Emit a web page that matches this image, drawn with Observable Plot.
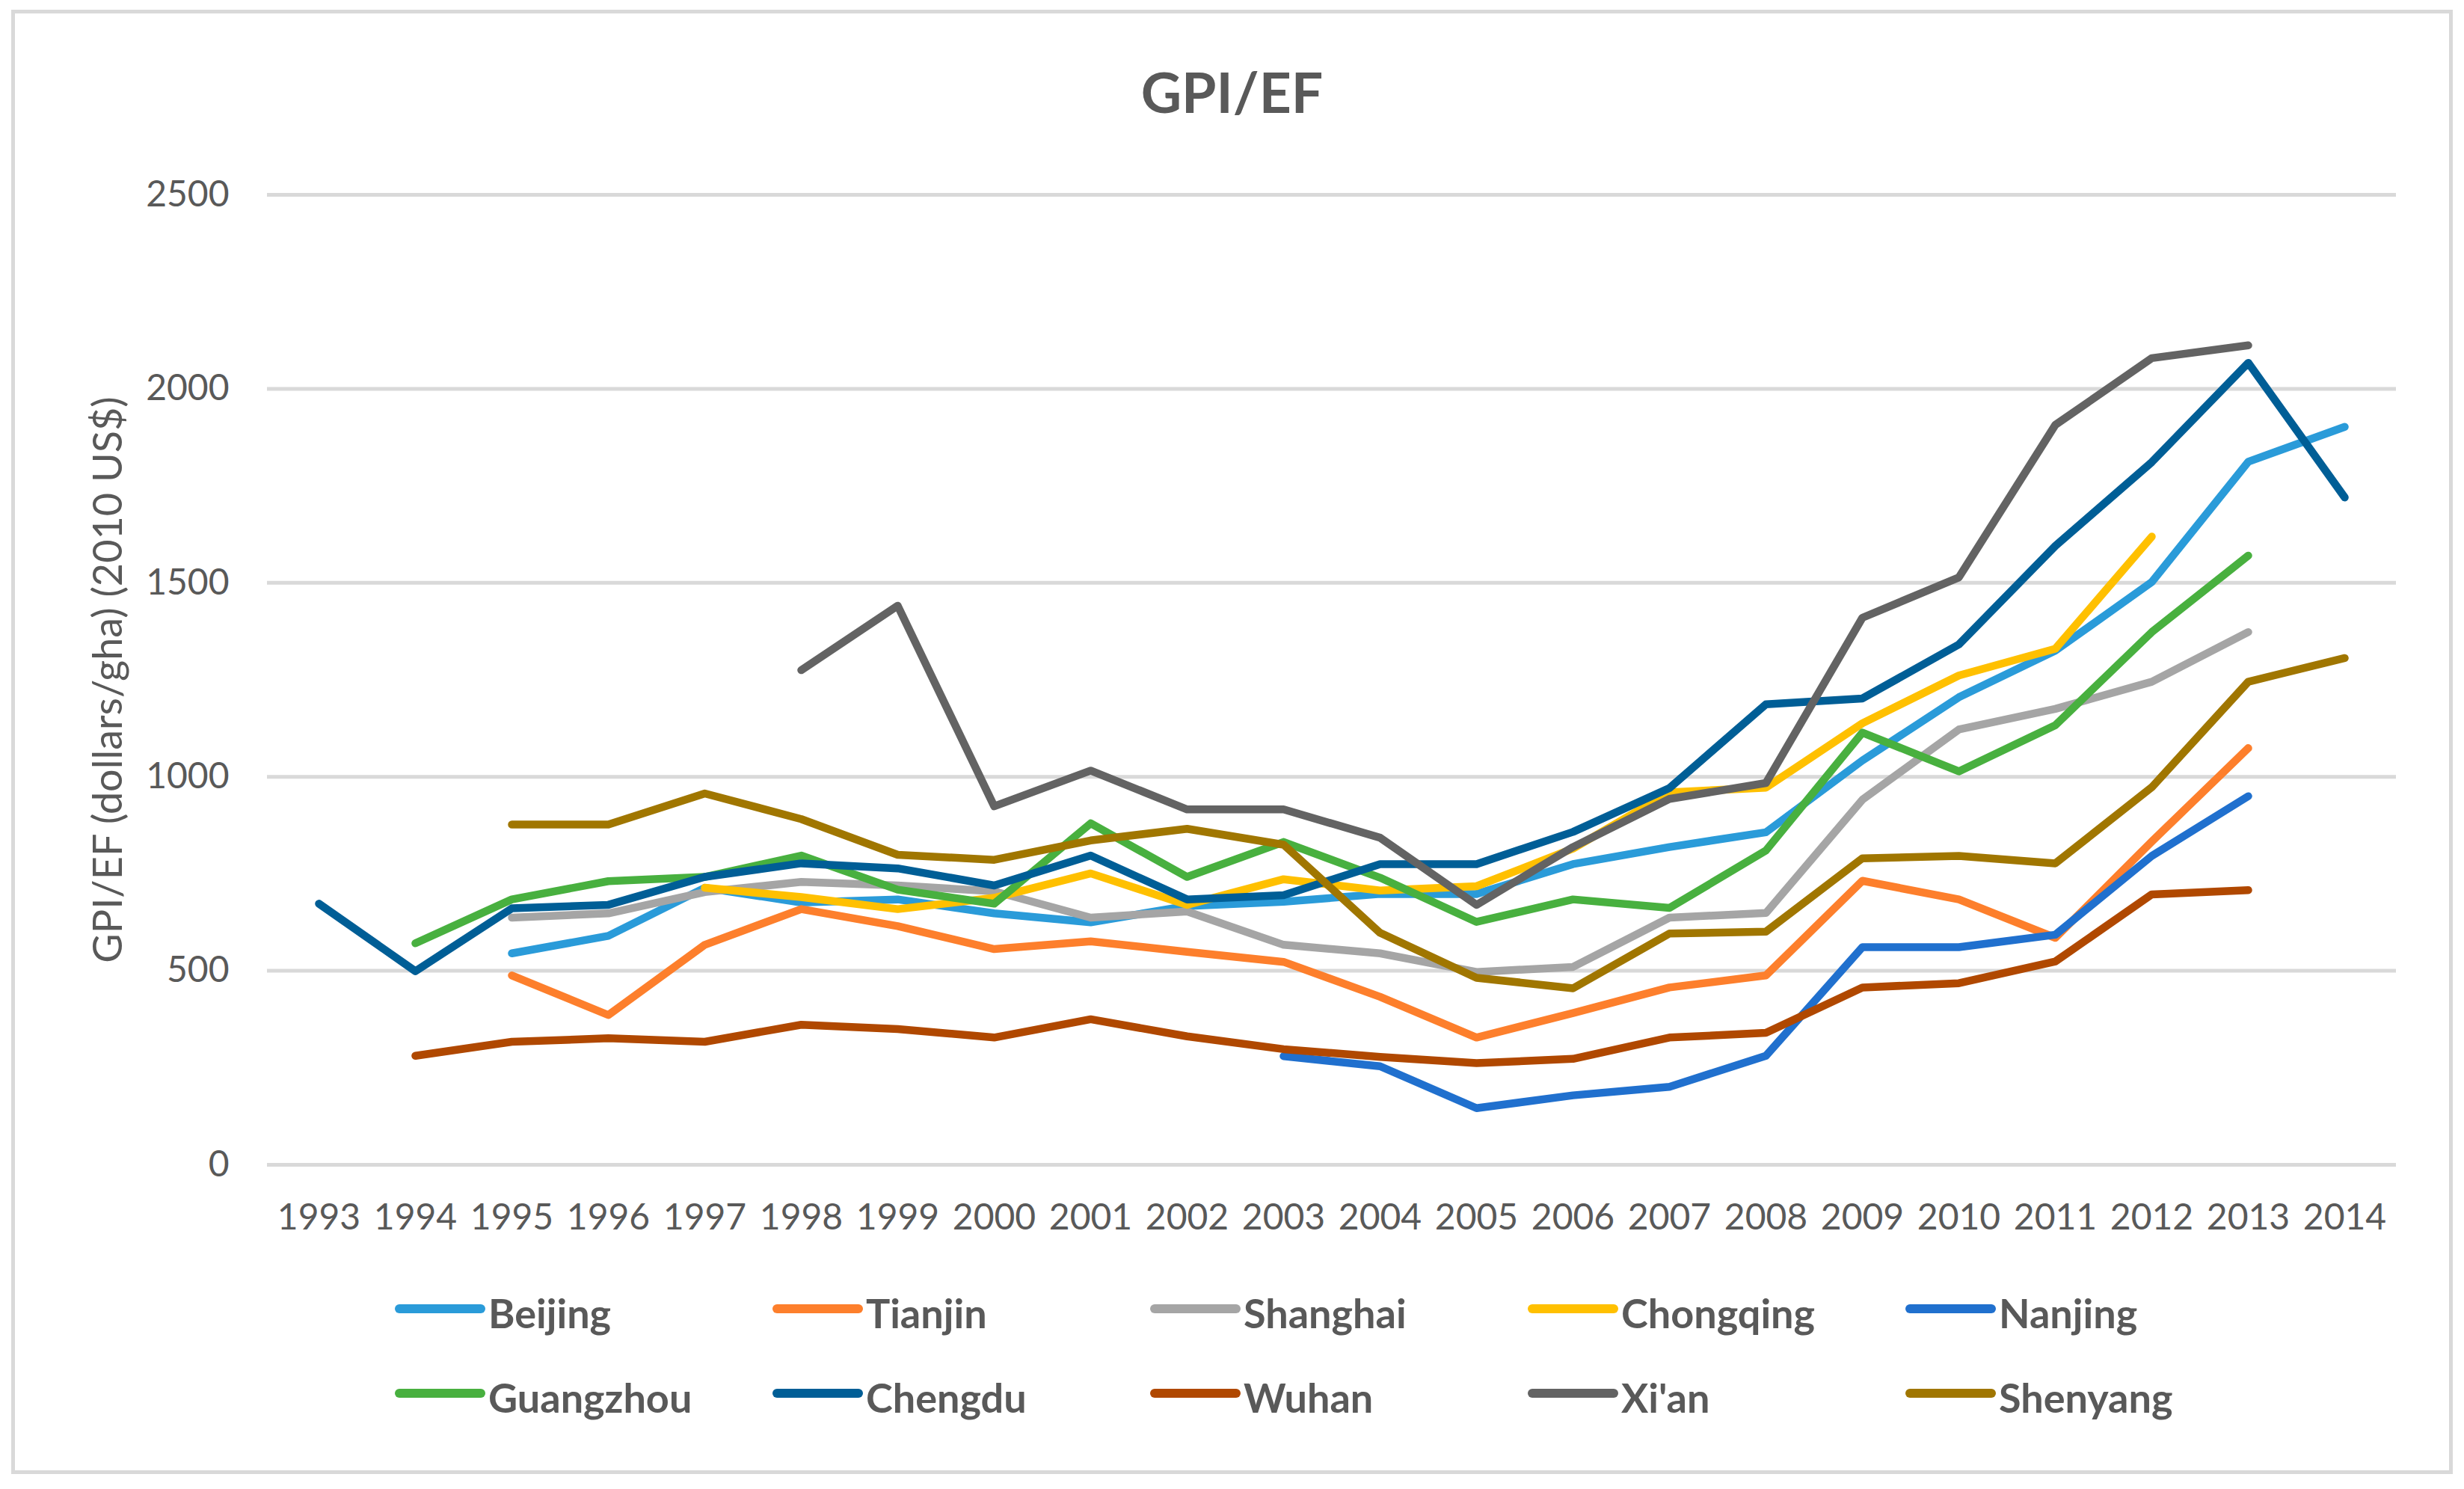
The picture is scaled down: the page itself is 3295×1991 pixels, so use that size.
<!DOCTYPE html>
<html>
<head>
<meta charset="utf-8">
<script src="https://cdn.jsdelivr.net/npm/d3@7"></script>
<script src="https://cdn.jsdelivr.net/npm/@observablehq/plot@0.6"></script>
<style>
  html, body { margin: 0; padding: 0; background: #fff; }
  #chart { position: relative; width: 3295px; height: 1991px; font-family: Lato, "Open Sans", sans-serif; color: #595959; overflow: hidden; background: #fff; }
  #frame { position: absolute; left: 15px; top: 13px; width: 3265px; height: 1958px; border: 5px solid #d9d9d9; box-sizing: border-box; }
  #title { position: absolute; left: 0; top: 85px; width: 3295px; text-align: center; font-size: 75px; line-height: 75px; font-weight: 700; color: #595959; }
  #plot { position: absolute; left: 0; top: 200px; }
  #legend { position: absolute; left: 528px; top: 1729px; display: grid; grid-template-columns: repeat(5, 505px); grid-auto-rows: 113px; }
  .item { display: flex; align-items: center; height: 54px; }
  .sw { width: 121px; height: 12px; border-radius: 6px; margin-right: 4px; margin-bottom: 12px; }
  .lab { font-size: 54px; line-height: 54px; font-weight: 700; color: #595959; white-space: nowrap; }
</style>
</head>
<body>
<div id="chart">
  <div id="frame"></div>
  <div id="title"></div>
  <div id="plot"></div>
  <div id="legend"></div>
</div>
<script>
// ---- data ----
const years = ["1993","1994","1995","1996","1997","1998","1999","2000","2001","2002","2003","2004","2005","2006","2007","2008","2009","2010","2011","2012","2013","2014"];
const cities = ["Beijing","Tianjin","Shanghai","Chongqing","Nanjing","Guangzhou","Chengdu","Wuhan","Xi'an","Shenyang"];
const colors = ["#2a9bd9","#fd7f2c","#a5a5a5","#ffc000","#2070ce","#48b03f","#005e96","#b04800","#636363","#a07600"];
const yTicks = [0, 500, 1000, 1500, 2000, 2500];
const titleText = "GPI/EF";
const yLabel = "GPI/EF (dollars/gha) (2010 US$)";

const beijing   = [null, null, 545, 590, 714, 676, 684, 648, 625, 667, 678, 698, 698, 775, 819, 857, 1042, 1205, 1325, 1502, 1812, 1902];
const tianjin   = [null, null, 488, 386, 567, 659, 615, 556, 576, 549, 523, 433, 328, 391, 457, 488, 732, 684, 585, 833, 1074, null];
const shanghai  = [null, null, 637, 648, 703, 729, 720, 705, 637, 653, 567, 545, 497, 510, 637, 649, 941, 1122, 1175, 1245, 1373, null];
const chongqing = [null, null, null, null, 714, 690, 659, 688, 751, 670, 736, 707, 718, 815, 960, 972, 1138, 1261, 1330, 1619, null, null];
const nanjing   = [null, null, null, null, null, null, null, null, null, null, 280, 254, 146, 179, 201, 281, 561, 561, 593, 796, 950, null];
const guangzhou = [null, 571, 684, 731, 742, 797, 709, 673, 880, 742, 832, 740, 626, 684, 662, 810, 1114, 1014, 1133, 1373, 1570, null];
const chengdu   = [673, 499, 661, 670, 742, 777, 764, 720, 797, 684, 695, 775, 775, 858, 971, 1187, 1202, 1341, 1595, 1811, 2067, 1720];
const wuhan     = [null, 281, 317, 326, 317, 361, 350, 328, 375, 331, 298, 278, 262, 273, 328, 340, 457, 468, 524, 697, 708, null];
const xian      = [null, null, null, null, null, 1275, 1441, 924, 1016, 916, 916, 843, 670, 819, 943, 984, 1410, 1514, 1907, 2079, 2112, null];
const shenyang  = [null, null, 877, 877, 957, 891, 799, 786, 836, 866, 825, 598, 482, 455, 596, 601, 790, 796, 777, 973, 1245, 1306];

const seriesValues = [beijing, tianjin, shanghai, chongqing, nanjing, guangzhou, chengdu, wuhan, xian, shenyang];

const rows = cities.flatMap((c, i) => seriesValues[i].map((v, j) => ({city: c, year: years[j], value: v})));

// ---- title ----
document.getElementById("title").textContent = titleText;

// ---- plot ----
const chart = Plot.plot({
  width: 3295,
  height: 1500,
  marginLeft: 357,
  marginRight: 91,
  marginTop: 60,
  marginBottom: 143,
  style: {fontFamily: "Lato, 'Open Sans', sans-serif", fontSize: "48px", color: "#595959", background: "transparent", overflow: "visible"},
  x: {type: "point", domain: years, padding: 0.5},
  y: {domain: [0, 2500]},
  color: {domain: cities, range: colors},
  marks: [
    Plot.ruleY(yTicks, {stroke: "#d9d9d9", strokeWidth: 5}),
    Plot.axisX({tickSize: 0, tickPadding: 52, label: null, fontSize: 48}),
    Plot.axisY({ticks: yTicks, tickSize: 0, tickPadding: 51, label: null, fontSize: 48, tickFormat: d => String(d)}),
    Plot.text([yLabel], {frameAnchor: "left", textAnchor: "middle", lineAnchor: "middle", rotate: -90, dx: -212, fontSize: 54, text: d => d, fill: "#595959"}),
    Plot.line(rows, {x: "year", y: "value", z: "city", stroke: "city", strokeWidth: 10.5, strokeLinejoin: "round", strokeLinecap: "round"})
  ]
});
document.getElementById("plot").appendChild(chart);

// ---- legend ----
const legend = document.getElementById("legend");
cities.forEach((c, i) => {
  const item = document.createElement("div");
  item.className = "item";
  const sw = document.createElement("div");
  sw.className = "sw";
  sw.style.background = colors[i];
  const lab = document.createElement("span");
  lab.className = "lab";
  lab.textContent = c;
  item.appendChild(sw);
  item.appendChild(lab);
  legend.appendChild(item);
});
</script>
</body>
</html>
